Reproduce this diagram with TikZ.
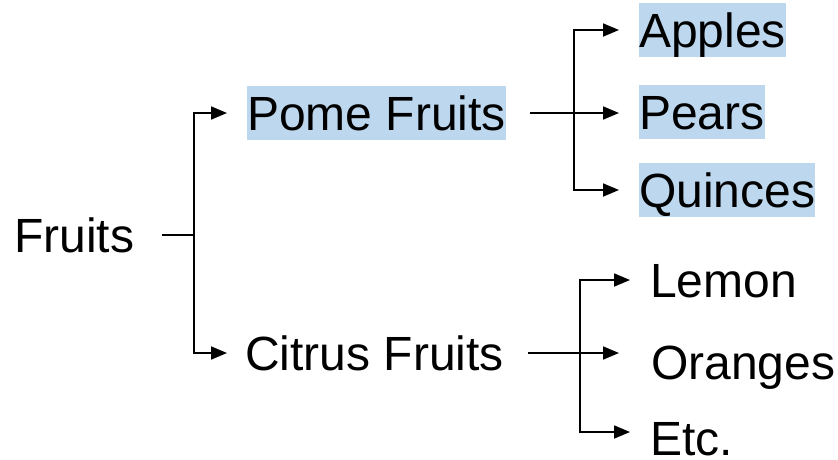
\documentclass[tikz,border=0pt]{standalone}
\usepackage{fontspec}
\setmainfont{Liberation Sans}
\usetikzlibrary{arrows.meta}
\definecolor{hl}{HTML}{BDD7EE}
\begin{document}
\begin{tikzpicture}[x=1pt,y=-1pt,
  lab/.style={font=\fontsize{48}{58}\selectfont, anchor=base west, inner sep=0pt, text height=44pt, text depth=10pt},
  hilite/.style={lab, fill=hl},
  conn/.style={line width=1.8pt},
  arr/.style={conn, -{Triangle[length=16pt,width=13pt]}}]
\useasboundingbox (0,0) rectangle (838,459);
% nodes
\node[lab] (fruits) at (14,252) {Fruits};
\node[hilite] (pome) at (247,130) {Pome Fruits};
\node[lab] (citrus) at (245,370) {Citrus Fruits};
\node[hilite] (apples) at (639,47) {Apples};
\node[hilite] (pears) at (639,129) {Pears};
\node[hilite] (quinces) at (639,207) {Quinces};
\node[lab] (lemon) at (650,297) {Lemon};
\node[lab] (oranges) at (651,379) {Oranges};
\node[lab] (etc) at (650,455) {Etc.};
% junctions
\coordinate (j1) at (194,235);
\coordinate (j2) at (pome.east -| 574,0);
\coordinate (j3) at (citrus.east -| 580,0);
% connectors
\draw[conn] ([xshift=28pt]fruits.east) -- (j1);
\draw[arr] (j1) |- ([xshift=-20pt]pome.west);
\draw[arr] (j1) |- ([xshift=-18pt]citrus.west);
\draw[conn] ([xshift=24pt]pome.east) -- (j2);
\draw[arr] (j2) |- ([xshift=-20pt]apples.west);
\draw[arr] (j2) -- ([xshift=-20pt]pears.west |- j2);
\draw[arr] (j2) |- ([xshift=-20pt]quinces.west);
\draw[conn] ([xshift=24pt]citrus.east) -- (j3);
\draw[arr] (j3) |- ([xshift=-20pt]lemon.west);
\draw[arr] (j3) -- ([xshift=-32pt]oranges.west |- j3);
\draw[arr] (j3) |- ([xshift=-20pt,yshift=6pt]etc.west);
\end{tikzpicture}
\end{document}
